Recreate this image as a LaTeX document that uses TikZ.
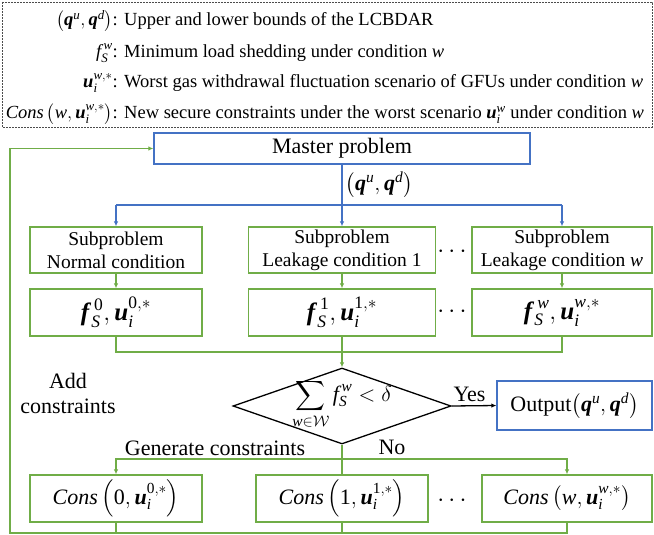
\documentclass[tikz,border=0pt]{standalone}
\usepackage{fix-cm}
\usepackage{amsmath}
\usepackage{fontspec}
\setmainfont{Liberation Serif}
\usetikzlibrary{shapes.geometric}
\usetikzlibrary{arrows.meta}

\definecolor{boxblue}{RGB}{68,114,196}
\definecolor{boxgreen}{RGB}{112,173,71}

\newcommand{\legendfont}{\fontsize{18.5}{21}\selectfont}
\newcommand{\subfont}{\fontsize{19.5}{23}\selectfont}
\newcommand{\labelfont}{\fontsize{22}{25}\selectfont}
\newcommand{\resfont}{\fontsize{25}{28}\selectfont}
\newcommand{\vq}{\textbf{\textit{q}}}
\newcommand{\vu}{\textbf{\textit{u}}}
\newcommand{\vf}{\textbf{\textit{f}}}

\tikzset{
	bluebox/.style={draw=boxblue, line width=1.3pt, inner sep=0pt, align=center},
	greenbox/.style={draw=boxgreen, line width=1.3pt, inner sep=0pt, align=center},
	blueline/.style={draw=boxblue, line width=1.3pt},
	greenline/.style={draw=boxgreen, line width=1.3pt},
	flowarrow/.style={-{Latex[length=5pt,width=4.5pt]}},
	legendsym/.style={anchor=base east, inner sep=0pt, font=\legendfont},
	legenddesc/.style={anchor=base west, inner sep=0pt, font=\legendfont},
	legendframe/.style={draw=black!70, dash pattern=on 2pt off 1pt, line width=0.8pt},
}

\begin{document}
\begin{tikzpicture}[x=1pt, y=-1pt]
	\useasboundingbox (0,0) rectangle (654,535);
	% legend
	\draw[legendframe] (2,2) rectangle (652,127);
	\node[legendsym] (sym1) at (118,26) {$\left(\vq^{\textit{u}},\vq^{\textit{d}}\right)$:};
	\node[legenddesc] (desc1) at (124,26) {Upper and lower bounds of the LCBDAR};
	\node[legendsym] (sym2) at (118,58) {$\textit{f}_{\textit{S}}^{\,\textit{w}}$:};
	\node[legenddesc] (desc2) at (124,58) {Minimum load shedding under condition \textit{w}};
	\node[legendsym] (sym3) at (118,88) {$\vu_{\textit{i}}^{\textit{w},*}$:};
	\node[legenddesc] (desc3) at (124,88) {Worst gas withdrawal fluctuation scenario of GFUs under condition \textit{w}};
	\node[legendsym] (sym4) at (118,119) {$\textit{Cons}\left(\textit{w},\vu_{\textit{i}}^{\textit{w},*}\right)$:};
	\node[legenddesc] (desc4) at (124,119) {New secure constraints under the worst scenario $\vu_{\textit{i}}^{\textit{w}}$ under condition \textit{w}};
	% master problem and subproblems
	\node[bluebox, minimum width=376, minimum height=31, font=\labelfont] (master) at (342,148.5) {Master problem};
	\node[greenbox, minimum width=172, minimum height=46, font=\subfont] (sub0) at (116,250) {Subproblem\\Normal condition};
	\node[greenbox, minimum width=187, minimum height=46, font=\subfont] (sub1) at (342,250) {Subproblem\\Leakage condition 1};
	\node[greenbox, minimum width=180, minimum height=46, font=\subfont] (subw) at (562,250) {Subproblem\\Leakage condition \textit{w}};
	\node[greenbox, minimum width=172, minimum height=47, font=\resfont] (res0) at (116,312.5) {$\vf_{\textit{S}}^{\,\text{0}},\vu_{\textit{i}}^{\text{0},*}$};
	\node[greenbox, minimum width=187, minimum height=47, font=\resfont] (res1) at (342,312.5) {$\vf_{\textit{S}}^{\,\text{1}},\vu_{\textit{i}}^{\text{1},*}$};
	\node[greenbox, minimum width=180, minimum height=47, font=\resfont] (resw) at (562,312.5) {$\vf_{\textit{S}}^{\,\textit{w}},\vu_{\textit{i}}^{\textit{w},*}$};
	\node[font=\resfont] (dotsa) at (454,252) {$\cdots$};
	\node[font=\resfont] (dotsb) at (454,312) {$\cdots$};
	% check and output
	\node[diamond, draw, line width=1.3pt, minimum width=218, minimum height=76, inner sep=0pt] (dec) at (342,406) {};
	\node[font=\labelfont] (dectext) at (342,404) {$\displaystyle\sum_{\textit{w}\in\mathcal{W}}\textit{f}_{\textit{S}}^{\,\textit{w}}<\delta$};
	\node[bluebox, minimum width=155, minimum height=49, font=\labelfont] (out) at (574.5,405.5) {Output$\left(\vq^{\textit{u}},\vq^{\textit{d}}\right)$};
	\node[font=\labelfont, align=center] (addcons) at (68,393) {Add\\constraints};
	\node[font=\labelfont] (gencons) at (215,448) {Generate constraints};
	\node[font=\labelfont] (nolabel) at (392,447) {No};
	% new constraints
	\node[greenbox, minimum width=172, minimum height=47, font=\labelfont] (cons0) at (116,498.5) {$\textit{Cons}\left(\text{0},\vu_{\textit{i}}^{\text{0},*}\right)$};
	\node[greenbox, minimum width=172, minimum height=47, font=\labelfont] (cons1) at (342,498.5) {$\textit{Cons}\left(\text{1},\vu_{\textit{i}}^{\text{1},*}\right)$};
	\node[greenbox, minimum width=170, minimum height=47, font=\labelfont] (consw) at (567,498.5) {$\textit{Cons}\left(\textit{w},\vu_{\textit{i}}^{\textit{w},*}\right)$};
	\node[font=\resfont] (dotsc) at (454,501) {$\cdots$};
	% connectors
	\coordinate (bsplit) at (342,205);
	\coordinate (gmerge) at (342,352);
	\coordinate (gsplit) at (342,459);
	\coordinate (fback) at (10,533);
	\draw[blueline] (master.south) -- (bsplit) node[right, inner sep=0pt, xshift=3pt, font=\labelfont, yshift=20pt] (qlabel) {$\left(\vq^{\textit{u}},\vq^{\textit{d}}\right)$};
	\draw[blueline] (sub0.north |- bsplit) -- (subw.north |- bsplit);
	\draw[blueline, flowarrow] (sub0.north |- bsplit) -- (sub0.north);
	\draw[blueline, flowarrow] (bsplit) -- (sub1.north);
	\draw[blueline, flowarrow] (subw.north |- bsplit) -- (subw.north);
	\draw[greenline, flowarrow] (sub0) -- (res0);
	\draw[greenline, flowarrow] (sub1) -- (res1);
	\draw[greenline, flowarrow] (subw) -- (resw);
	\draw[greenline] (res0.south) |- (gmerge) -| (resw.south);
	\draw[greenline] (res1.south) -- (gmerge);
	\draw[greenline, flowarrow] (gmerge) -- (dec.north);
	\draw[line width=1.3pt, flowarrow] (dec.east) -- (out.west) node[pos=0.4, above, font=\labelfont] (yeslabel) {Yes};
	\draw[greenline] (dec.south) -- (cons1.north);
	\draw[greenline, flowarrow] (gsplit) -| (cons0.north);
	\draw[greenline, flowarrow] (gsplit) -| (consw.north);
	\draw[greenline] (cons0.south) -- (cons0.south |- fback);
	\draw[greenline] (cons1.south) -- (cons1.south |- fback);
	\draw[greenline, flowarrow] (consw.south) |- (fback) |- (master.west);
\end{tikzpicture}
\end{document}
